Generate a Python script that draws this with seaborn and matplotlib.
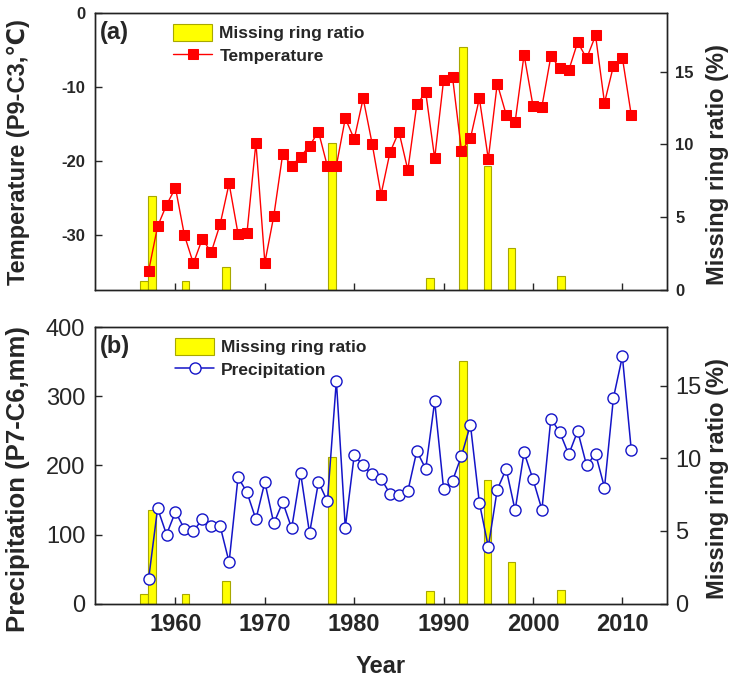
import matplotlib
matplotlib.use('Agg')
import matplotlib.pyplot as plt
import seaborn as sns

# temperature / precipitation series (1957-2011)
years = list(range(1957, 2012))
temperature = [-34.8, -28.8, -25.9, -23.6, -30.0, -33.8, -30.5, -32.3, -28.5, -23.0,
               -29.8, -29.7, -17.5, -33.7, -27.4, -19.0, -20.6, -19.4, -17.9, -16.0,
               -20.7, -20.6, -14.2, -17.0, -11.5, -17.6, -24.5, -18.8, -16.0, -21.2,
               -12.3, -10.7, -19.6, -9.0, -8.65, -18.6, -16.9, -11.5, -19.7, -9.5,
               -13.7, -14.7, -5.6, -12.5, -12.6, -5.8, -7.4, -7.7, -3.9, -6.1,
               -3.0, -12.1, -7.1, -6.0, -13.8]
precipitation = [36, 138, 100, 133, 108, 105, 122, 112, 112, 60,
                 183, 161, 122, 176, 116, 147, 109, 189, 102, 176,
                 148, 323, 110, 215, 200, 187, 181, 159, 157, 163,
                 221, 195, 293, 166, 178, 214, 259, 146, 82, 165,
                 195, 135, 219, 180, 136, 268, 248, 216, 250, 200,
                 217, 168, 298, 358, 222]

# missing ring ratio bars
bar_years = [1956.5, 1957.4, 1961.1, 1965.65, 1977.5, 1988.45, 1992.15, 1994.9, 1997.6, 2003.1]
missing_ratio = [0.65, 6.45, 0.65, 1.55, 10.1, 0.85, 16.7, 8.5, 2.87, 0.95]

sns.set_style('ticks')
plt.rcParams['font.family'] = ['Liberation Sans', 'DejaVu Sans']
plt.rcParams['axes.linewidth'] = 1.0
plt.rcParams['axes.unicode_minus'] = False

fig = plt.figure(figsize=(7.43, 6.82), dpi=100)
ax_a = fig.add_axes([0.1279, 0.5748, 0.7699, 0.4057])
ax_b = fig.add_axes([0.1279, 0.1150, 0.7699, 0.4049])

BAR_KW = dict(width=0.85, color='#FFFF00', edgecolor='#A8A800', linewidth=0.8)


def panel(ax, y, line_kw, label, ylim, yticks, ylabel, ylab_size, letter, tick_bold, tick_size, ylab_y, leg_anchor):
    ax2 = ax.twinx()
    bars = ax2.bar(bar_years, missing_ratio, **BAR_KW)
    sns.lineplot(x=years, y=y, ax=ax, legend=False, **line_kw)
    ax.set_zorder(ax2.get_zorder() + 1)
    ax.patch.set_visible(False)

    ax.set_xlim(1951, 2015)
    ax.set_ylim(*ylim)
    ax.set_yticks(yticks)
    ax2.set_ylim(0, 19)
    ax2.set_yticks([0, 5, 10, 15])
    ax.set_xticks(range(1960, 2011, 10))

    weight = 'bold' if tick_bold else 'normal'
    for a in (ax, ax2):
        a.tick_params(direction='in', length=5, width=1.0, labelsize=tick_size)
        for s in a.spines.values():
            s.set_color('#222222')
            s.set_visible(True)
    ax.tick_params(axis='y', pad=7)
    ax2.tick_params(axis='y', pad=6)
    for t in ax.get_yticklabels() + ax2.get_yticklabels():
        t.set_fontweight(weight)

    ax.set_ylabel(ylabel, fontsize=ylab_size, fontweight='bold')
    ax.yaxis.set_label_coords(-0.113, ylab_y)
    ax2.set_ylabel('Missing ring ratio (%)', fontsize=17, fontweight='bold')
    ax2.yaxis.set_label_coords(1.068, 0.453)

    ax.text(0.009, 0.93, letter, transform=ax.transAxes, fontsize=17,
            fontweight='bold', ha='left', va='center')
    line = ax.lines[0]
    ax.legend(handles=[bars, line], labels=['Missing ring ratio', label],
              loc='upper left', bbox_to_anchor=leg_anchor, frameon=False,
              prop={'size': 12.5, 'weight': 'bold'}, handlelength=2.25,
              handleheight=1.15, handletextpad=0.4, labelspacing=0.32,
              borderpad=0, borderaxespad=0)
    return ax2


panel(ax_a, temperature,
      dict(color='#FF0000', linewidth=1.0, marker='s', markersize=6.5,
           markerfacecolor='#FF0000', markeredgecolor='#FF0000'),
      'Temperature', (-37.4, 0), [0, -10, -20, -30], 'Temperature (P9-C3,℃)', 17, '(a)',
      True, 12, 0.5, (0.137, 0.962))
ax_a.tick_params(axis='x', labelbottom=False)

panel(ax_b, precipitation,
      dict(color='#1414C8', linewidth=1.1, marker='o', markersize=8,
           markerfacecolor='white', markeredgecolor='#1414C8', markeredgewidth=1.0),
      'Precipitation', (0, 400), [0, 100, 200, 300, 400], 'Precipitation (P7-C6,mm)', 18.5, '(b)',
      False, 17, 0.45, (0.14, 0.963))
ax_b.tick_params(axis='x', labelsize=17, pad=7)
for t in ax_b.get_xticklabels():
    t.set_fontweight('bold')
ax_b.set_xlabel('Year', fontsize=17, fontweight='bold')
ax_b.xaxis.set_label_coords(0.5, -0.185)

fig.savefig('out.png', dpi=100)
